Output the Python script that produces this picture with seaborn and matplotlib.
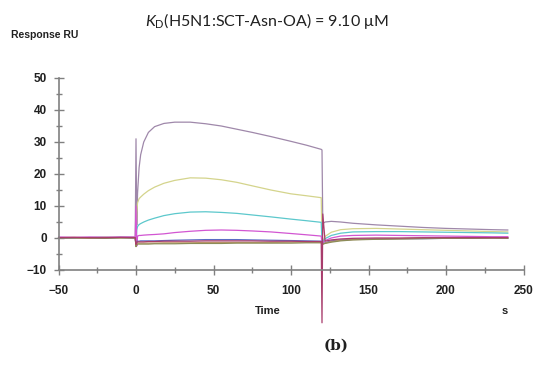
import numpy as np
import pandas as pd
import matplotlib
matplotlib.use('Agg')
import matplotlib.pyplot as plt
import seaborn as sns
from matplotlib.ticker import MultipleLocator

# Sensorgram values (RU vs s)
time_s = [-50, -40, -30, -20, -10, -0.5, 0, 0.5, 1, 2, 3, 5, 8, 12, 18, 25, 35, 45, 55,
          65, 75, 87, 100, 110, 119.5, 120, 120.5, 122, 126, 132, 140, 155, 170, 185,
          200, 215, 230, 240]

conc_1 = [0.2, 0.1, 0.2, 0.3, 0.2, 0.3, 31.0, 4.0, 14.0, 22.0, 26.0, 30.0, 33.0, 34.8,
          35.8, 36.2, 36.2, 35.7, 35.0, 34.0, 33.0, 31.7, 30.2, 29.0, 27.7, 27.5, 4.5,
          5.0, 5.2, 5.0, 4.6, 4.1, 3.7, 3.3, 3.0, 2.8, 2.6, 2.5]
conc_2 = [0.1, 0.2, 0.0, 0.2, 0.1, 0.2, -2.0, 8.0, 11.0, 12.3, 12.8, 13.7, 14.8, 15.9,
          17.1, 18.0, 18.8, 18.7, 18.2, 17.4, 16.3, 15.0, 13.8, 13.2, 12.6, -1.5, -1.0,
          0.5, 1.8, 2.6, 2.9, 3.0, 2.8, 2.6, 2.4, 2.2, 2.0, 1.9]
conc_3 = [0.0, 0.1, 0.1, 0.0, 0.2, 0.1, -2.0, 2.5, 3.6, 4.2, 4.5, 5.0, 5.6, 6.2, 7.0,
          7.6, 8.1, 8.2, 8.0, 7.7, 7.2, 6.6, 5.9, 5.4, 4.9, -1.5, -1.2, -0.2, 0.8, 1.5,
          1.9, 2.0, 2.0, 1.9, 1.8, 1.7, 1.6, 1.5]
conc_4 = [0.3, 0.2, 0.3, 0.2, 0.3, 0.3, 10.0, -2.5, 0.6, 0.8, 0.8, 0.9, 1.0, 1.1, 1.3,
          1.7, 2.1, 2.4, 2.5, 2.4, 2.2, 1.9, 1.4, 1.0, 0.6, -1.8, -1.5, -0.8, 0.0, 0.6,
          0.8, 0.9, 0.8, 0.7, 0.6, 0.5, 0.4, 0.4]
conc_5 = [0.0, -0.1, 0.1, 0.0, 0.1, 0.0, -2.5, -1.2, -1.0, -1.0, -0.9, -0.9, -0.9, -0.9,
          -0.8, -0.7, -0.6, -0.5, -0.5, -0.5, -0.6, -0.7, -0.8, -0.9, -1.0, -2.0, -1.8,
          -1.5, -0.9, -0.6, -0.4, -0.3, -0.2, -0.2, -0.1, -0.1, 0.0, 0.0]
conc_6 = [0.1, 0.0, -0.1, 0.1, 0.0, 0.1, -2.5, -1.8, -1.6, -1.6, -1.6, -1.6, -1.6, -1.6,
          -1.5, -1.5, -1.5, -1.4, -1.4, -1.4, -1.4, -1.4, -1.3, -1.3, -1.3, -2.0, -1.9,
          -1.6, -1.1, -0.7, -0.5, -0.3, -0.2, -0.1, -0.1, 0.0, 0.0, 0.0]
conc_7 = [0.0, 0.1, 0.0, -0.1, 0.1, 0.0, -2.7, -2.1, -1.9, -1.9, -1.9, -1.9, -1.9, -1.8,
          -1.8, -1.8, -1.7, -1.7, -1.7, -1.6, -1.6, -1.6, -1.6, -1.5, -1.5, -2.0, -1.9,
          -1.7, -1.3, -0.9, -0.6, -0.4, -0.3, -0.2, -0.1, -0.1, 0.0, -0.1]
conc_8 = [0.1, 0.2, 0.1, 0.1, 0.2, 0.1, -2.0, -1.3, -1.2, -1.2, -1.2, -1.2, -1.1, -1.1,
          -1.0, -1.0, -1.0, -0.9, -0.9, -0.9, -0.9, -1.0, -1.0, -1.1, -1.1, -26.5, 7.5,
          -1.0, -0.6, -0.3, -0.1, 0.0, 0.0, 0.1, 0.1, 0.1, 0.1, 0.1]

curve_names = ['c1', 'c2', 'c3', 'c4', 'c5', 'c6', 'c7', 'c8']
curve_colors = ['#9f88aa', '#d4d48c', '#5cc8cc', '#d256d2', '#5c6cc4', '#c0946a',
                '#8c8c58', '#a83c6c']

rows = []
for name, vals in zip(curve_names, [conc_1, conc_2, conc_3, conc_4, conc_5, conc_6,
                                    conc_7, conc_8]):
    for t, v in zip(time_s, vals):
        rows.append({'Time': t, 'Response': v, 'curve': name})
df = pd.DataFrame(rows)

sns.set_style('white')
plt.rcParams['font.family'] = ['Liberation Sans', 'DejaVu Sans']

fig = plt.figure(figsize=(5.5, 3.65), dpi=100)
ax = fig.add_axes([58.5 / 550, 1 - 270 / 365, 465 / 550, 192 / 365])

sns.lineplot(data=df, x='Time', y='Response', hue='curve', hue_order=curve_names,
             palette=dict(zip(curve_names, curve_colors)), sort=False, estimator=None,
             legend=False, linewidth=0.9, ax=ax)
for ln in ax.get_lines():
    ln.set_clip_on(False)

ax.set_xlim(-50, 250)
ax.set_ylim(-10, 50)
ax.set_xlabel('')
ax.set_ylabel('')
ax.xaxis.set_major_locator(MultipleLocator(50))
ax.xaxis.set_minor_locator(MultipleLocator(25))
ax.yaxis.set_major_locator(MultipleLocator(10))
ax.yaxis.set_minor_locator(MultipleLocator(5))

for side in ['top', 'right']:
    ax.spines[side].set_visible(False)
for side in ['left', 'bottom']:
    ax.spines[side].set_color('#808080')
    ax.spines[side].set_linewidth(1.2)

ax.tick_params(axis='both', which='both', bottom=True, left=True)
ax.tick_params(axis='both', which='major', direction='inout', length=7, width=1,
               color='#808080', labelsize=8.5, labelcolor='#202020')
ax.tick_params(axis='both', which='minor', direction='inout', length=4, width=1,
               color='#808080')
ax.tick_params(axis='x', which='major', pad=7)
ax.tick_params(axis='y', which='major', pad=5)
ax.set_yticks([-10, 0, 10, 20, 30, 40, 50])
ax.set_yticklabels(['\u221210', '0', '10', '20', '30', '40', '50'], fontweight='bold')
ax.set_xticks([-50, 0, 50, 100, 150, 200, 250])
ax.set_xticklabels(['\u221250', '0', '50', '100', '150', '200', '250'], fontweight='bold')

plt.rcParams['mathtext.fontset'] = 'custom'
plt.rcParams['mathtext.rm'] = 'Lato'
plt.rcParams['mathtext.it'] = 'Lato:italic'
fig.text(267 / 550, 1 - 21 / 365, r'$K_{\mathrm{D}}$(H5N1:SCT-Asn-OA) = 9.10 μM',
         ha='center', va='center', fontsize=11.5, family='Lato', color='#202020')
fig.text(11 / 550, 1 - 35 / 365, 'Response RU', ha='left', va='center',
         fontsize=7.5, fontweight='bold', color='#202020')
fig.text(267.5 / 550, 1 - 311.5 / 365, 'Time', ha='center', va='center',
         fontsize=8, fontweight='bold', color='#202020')
fig.text(505 / 550, 1 - 311.5 / 365, 's', ha='center', va='center',
         fontsize=8, fontweight='bold', color='#202020')
fig.text(336 / 550, 1 - 346 / 365, '(b)', ha='center', va='center',
         fontsize=11, fontweight='bold', family='DejaVu Serif', color='#202020')

fig.savefig('out.png', dpi=100)
